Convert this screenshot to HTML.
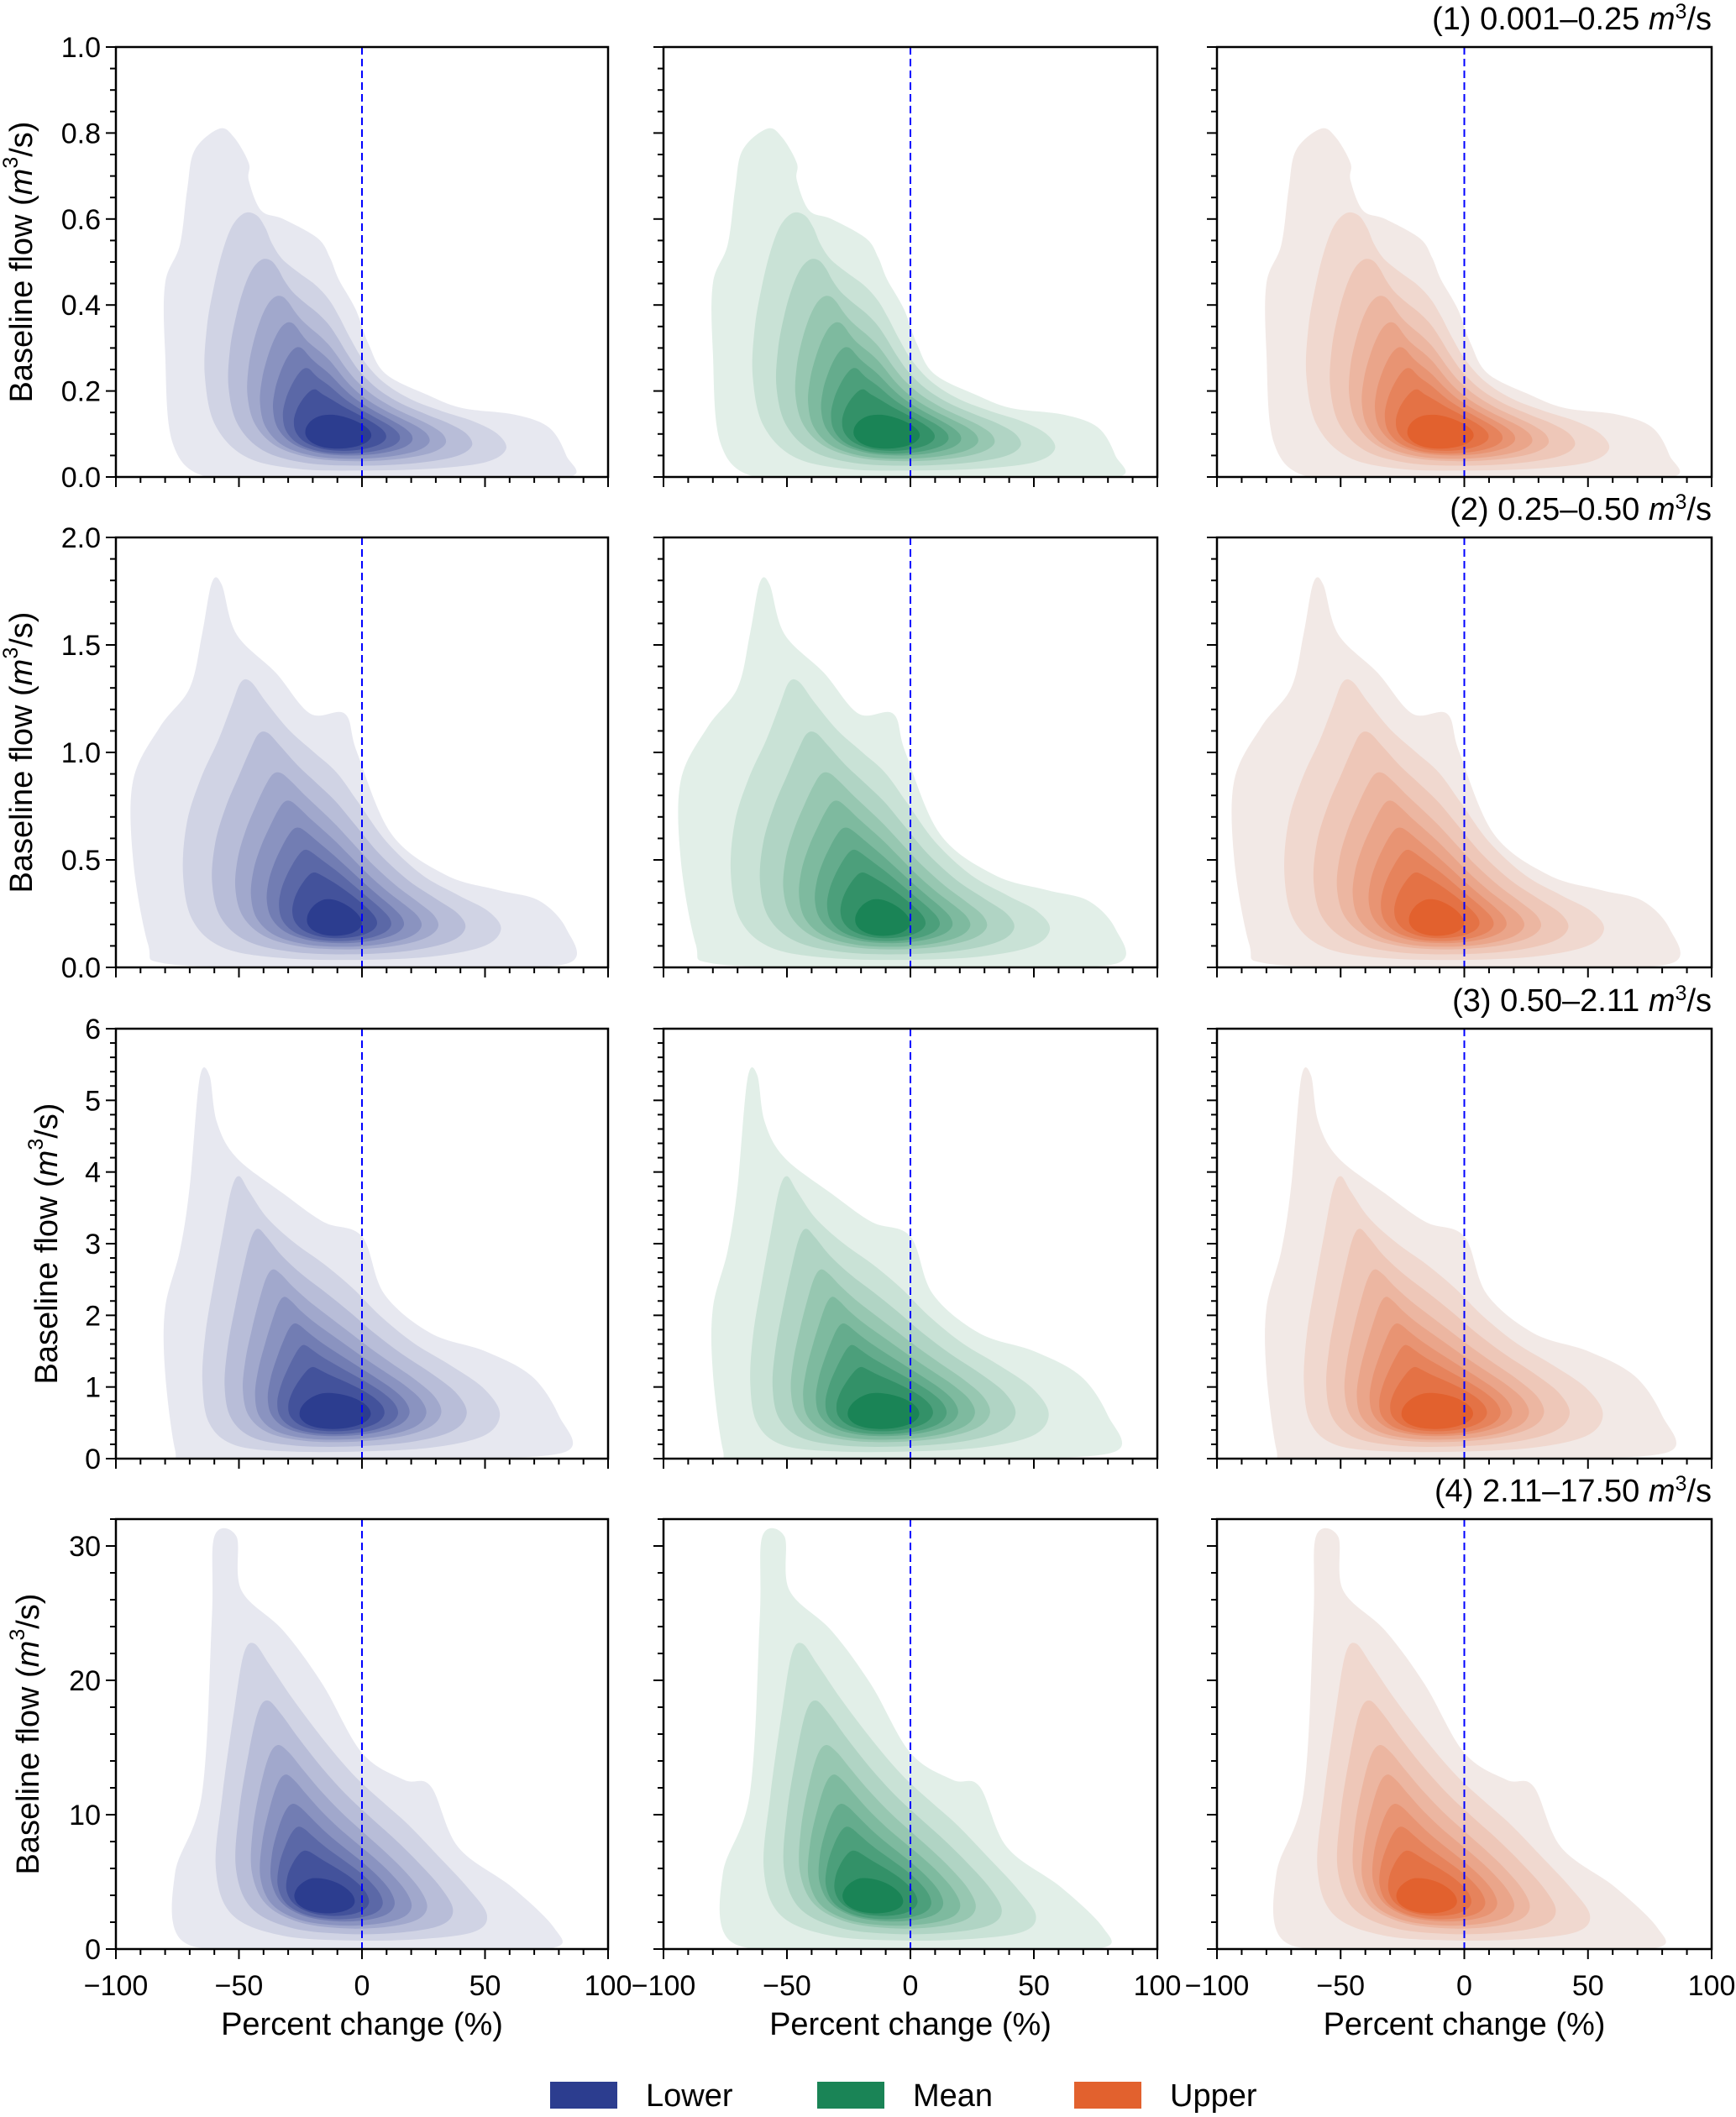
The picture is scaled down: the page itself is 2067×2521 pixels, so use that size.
<!DOCTYPE html>
<html><head><meta charset="utf-8"><style>
html,body{margin:0;padding:0;background:#fff;}
svg{display:block;font-family:"Liberation Sans",sans-serif;}
</style></head><body>
<svg id="fig" width="2067" height="2521" viewBox="0 0 2067 2521" xmlns="http://www.w3.org/2000/svg"></svg>
<script>
// ---- data ----
const xTicks = [-100, -50, 0, 50, 100];
const rowYMax = [1.0, 2.0, 6.0, 32];
const rowYTicks = [[0.0,0.2,0.4,0.6,0.8,1.0],[0.0,0.5,1.0,1.5,2.0],[0,1,2,3,4,5,6],[0,10,20,30]];
const rowYTickLabels = [["0.0","0.2","0.4","0.6","0.8","1.0"],["0.0","0.5","1.0","1.5","2.0"],["0","1","2","3","4","5","6"],["0","10","20","30"]];
const rowYMinor = [0.05, 0.1, 0.2, 2];
const rowTitles = ["(1) 0.001–0.25 ", "(2) 0.25–0.50 ", "(3) 0.50–2.11 ", "(4) 2.11–17.50 "];
const seriesNames = ["Lower", "Mean", "Upper"];
// outer contour (x %, y flow) per row
const outerRow1 = [[-63,0],[-77,0.08],[-80,0.29],[-80,0.45],[-74,0.54],[-71,0.67],[-68,0.76],[-58,0.81],[-52,0.79],[-46,0.73],[-46,0.69],[-41,0.62],[-32,0.6],[-18,0.555],[-13,0.51],[-9.5,0.46],[-2.6,0.39],[2.6,0.31],[9.6,0.24],[27,0.19],[41,0.16],[62,0.145],[76,0.115],[83,0.05],[84,0],[40,0],[0,0],[-30,0]];
const outerRow2 = [[-81,0.02],[-87,0.11],[-93,0.5],[-93,0.87],[-82,1.12],[-70,1.3],[-65,1.55],[-61,1.79],[-57,1.78],[-51,1.55],[-35,1.37],[-21,1.18],[-7,1.18],[-2,1.0],[12,0.62],[34,0.43],[55,0.36],[72,0.31],[83,0.18],[84,0.02],[40,0],[0,0],[-40,0]];
const outerRow3 = [[-72,0],[-76,0.13],[-80,1.2],[-80,2.1],[-74,2.9],[-70,3.8],[-66,5.3],[-62,5.35],[-59,4.7],[-51,4.2],[-32,3.7],[-15.5,3.3],[0,3.1],[9,2.3],[28,1.75],[50,1.5],[69,1.15],[80,0.6],[83,0.1],[40,0],[0,0],[-40,0]];
const outerRow4 = [[-73,0.6],[-76,5.6],[-65,11.6],[-61,24.7],[-60,30.7],[-51,30.7],[-49,26.7],[-32,23.7],[-16,19.7],[0,14.6],[17,12.6],[28,12.1],[39,7.6],[61,4.6],[78,1.6],[78,0.1],[40,0],[0,0],[-40,0]];
const outers = [outerRow1, outerRow2, outerRow3, outerRow4];
// density core: [cx %, cy flow, rx %, ry flow]
const cores = [[-12,0.095,17,0.05],[-12,0.2,13,0.12],[-12,0.6,19,0.32],[-18,3.6,18,1.7]];
const levelT = [1, 0.74, 0.58, 0.45, 0.35, 0.26, 0.18, 0.1, 0];
const lightColors = [[231,232,240],[226,239,232],[242,233,230]];
const darkColors = [[44,61,143],[26,132,86],[226,97,46]];

// ---- layout ----
const colX = [[138,724],[790,1378],[1449,2038]];
const rowY = [[56,568],[640,1152],[1225,1737],[1809,2321]];
const NS = "http://www.w3.org/2000/svg";
const svg = document.getElementById('fig');
function el(tag, attrs, parent){const e=document.createElementNS(NS,tag);for(const k in attrs)e.setAttribute(k,attrs[k]);(parent||svg).appendChild(e);return e;}
function smoothPath(pts){
  const n=pts.length;let d=`M${pts[0][0].toFixed(1)},${pts[0][1].toFixed(1)}`;
  for(let i=0;i<n;i++){const p0=pts[(i-1+n)%n],p1=pts[i],p2=pts[(i+1)%n],p3=pts[(i+2)%n];
    const c1=[p1[0]+(p2[0]-p0[0])/6,p1[1]+(p2[1]-p0[1])/6],c2=[p2[0]-(p3[0]-p1[0])/6,p2[1]-(p3[1]-p1[1])/6];
    d+=`C${c1[0].toFixed(1)},${c1[1].toFixed(1)} ${c2[0].toFixed(1)},${c2[1].toFixed(1)} ${p2[0].toFixed(1)},${p2[1].toFixed(1)}`;}
  return d+'Z';
}
function laplace(pts,iters){
  let p=pts.map(q=>q.slice());const n=p.length;
  for(let it=0;it<iters;it++){p=p.map((q,i)=>{const a=p[(i-1+n)%n],b=p[(i+1)%n];return [0.5*q[0]+0.25*(a[0]+b[0]),0.5*q[1]+0.25*(a[1]+b[1])];});}
  return p;
}
const defs = el('defs',{});
for(let r=0;r<4;r++){
  const [y0,y1]=rowY[r];const ymax=rowYMax[r];
  const yS=v=>y1-(v/ymax)*(y1-y0);
  for(let c=0;c<3;c++){
    const [x0,x1]=colX[c];
    const xS=v=>x0+(v+100)/200*(x1-x0);
    const g=el('g',{});
    
    
    const cid=`clip${r}${c}`;
    const cp=el('clipPath',{id:cid},defs);el('rect',{x:x0,y:y0,width:x1-x0,height:y1-y0-1},cp);
    const cg=el('g',{'clip-path':`url(#${cid})`},g);
    const core=cores[r];const ccx=xS(core[0]),ccy=yS(core[1]);
    const crx=xS(core[0]+core[2])-ccx, cry=ccy-yS(core[1]+core[3]);
    const outerPx=outers[r].map(p=>[xS(p[0]),yS(p[1])]);
    const corePx=outerPx.map(p=>{const a=Math.atan2((p[1]-ccy)/cry,(p[0]-ccx)/crx);return [ccx+crx*Math.cos(a),ccy+cry*Math.sin(a)];});
    levelT.forEach((t,k)=>{
      let pts=outerPx.map((p,i)=>[corePx[i][0]+(p[0]-corePx[i][0])*t,corePx[i][1]+(p[1]-corePx[i][1])*t]);
      if(t<1) pts=laplace(pts,Math.round((1-t)*5)+1);
      const f=k/(levelT.length-1);const L=lightColors[c],D=darkColors[c];
      const col=`rgb(${L.map((v,j)=>Math.round(v+(D[j]-v)*f)).join(',')})`;
      const p=el('path',{d:smoothPath(pts),fill:col},cg);
      
      
    });
    const zl=el('line',{x1:xS(0),x2:xS(0),y1:y0,y2:y1,stroke:'#0000ff','stroke-width':2,'stroke-dasharray':'9,5'},g);
    
    
    const fr=el('rect',{x:x0,y:y0,width:x1-x0,height:y1-y0,fill:'none',stroke:'#000','stroke-width':2.5},g);
    
    
    for(let v=-100;v<=100;v+=10){const major=v%50===0;el('line',{x1:xS(v),x2:xS(v),y1:y1,y2:y1+(major?12:7),stroke:'#000','stroke-width':2},g);}
    if(r===3){
      xTicks.forEach(v=>{const t=el('text',{x:xS(v),y:y1+55,'font-size':34,'text-anchor':'middle'},g);t.textContent=(v<0?'−':'')+Math.abs(v);
        });
      const xl=el('text',{x:(x0+x1)/2,y:y1+102,'font-size':38,'text-anchor':'middle'},g);xl.textContent='Percent change (%)';
      
    }
    const mstep=rowYMinor[r];
    for(let k=0;k*mstep<=ymax+1e-9;k++){const v=k*mstep;const major=rowYTicks[r].some(t=>Math.abs(t-v)<1e-9);
      el('line',{x1:x0,x2:x0-(major?12:7),y1:yS(v),y2:yS(v),stroke:'#000','stroke-width':2},g);}
    if(c===0){
      rowYTicks[r].forEach((v,i)=>{const t=el('text',{x:x0-18,y:yS(v)+12,'font-size':34,'text-anchor':'end'},g);t.textContent=rowYTickLabels[r][i];
        });
      const lx=[26,26,56,34][r];const cy=(y0+y1)/2;
      const yl=el('text',{x:lx,y:cy,'font-size':38,'text-anchor':'middle',transform:`rotate(-90 ${lx} ${cy})`,'dominant-baseline':'central'},g);
      yl.innerHTML='Baseline flow (<tspan font-style="italic">m</tspan><tspan font-size="25" dy="-13">3</tspan><tspan dy="13">/s)</tspan>';
      
    }
    if(c===2){
      const tt=el('text',{x:x1,y:y0-21,'font-size':38,'text-anchor':'end'},g);
      tt.innerHTML=rowTitles[r]+'<tspan font-style="italic">m</tspan><tspan font-size="25" dy="-13">3</tspan><tspan dy="13">/s</tspan>';
      
    }
  }
}
const lg=el('g',{});


const legX=[655,973,1279];
seriesNames.forEach((n,i)=>{
  const D=darkColors[i];
  const b=el('rect',{x:legX[i],y:2479,width:80,height:32,fill:`rgb(${D.join(',')})`},lg);
  
  const t=el('text',{x:legX[i]+114,y:2508,'font-size':38},lg);t.textContent=n;
  
});
</script>
</body></html>
